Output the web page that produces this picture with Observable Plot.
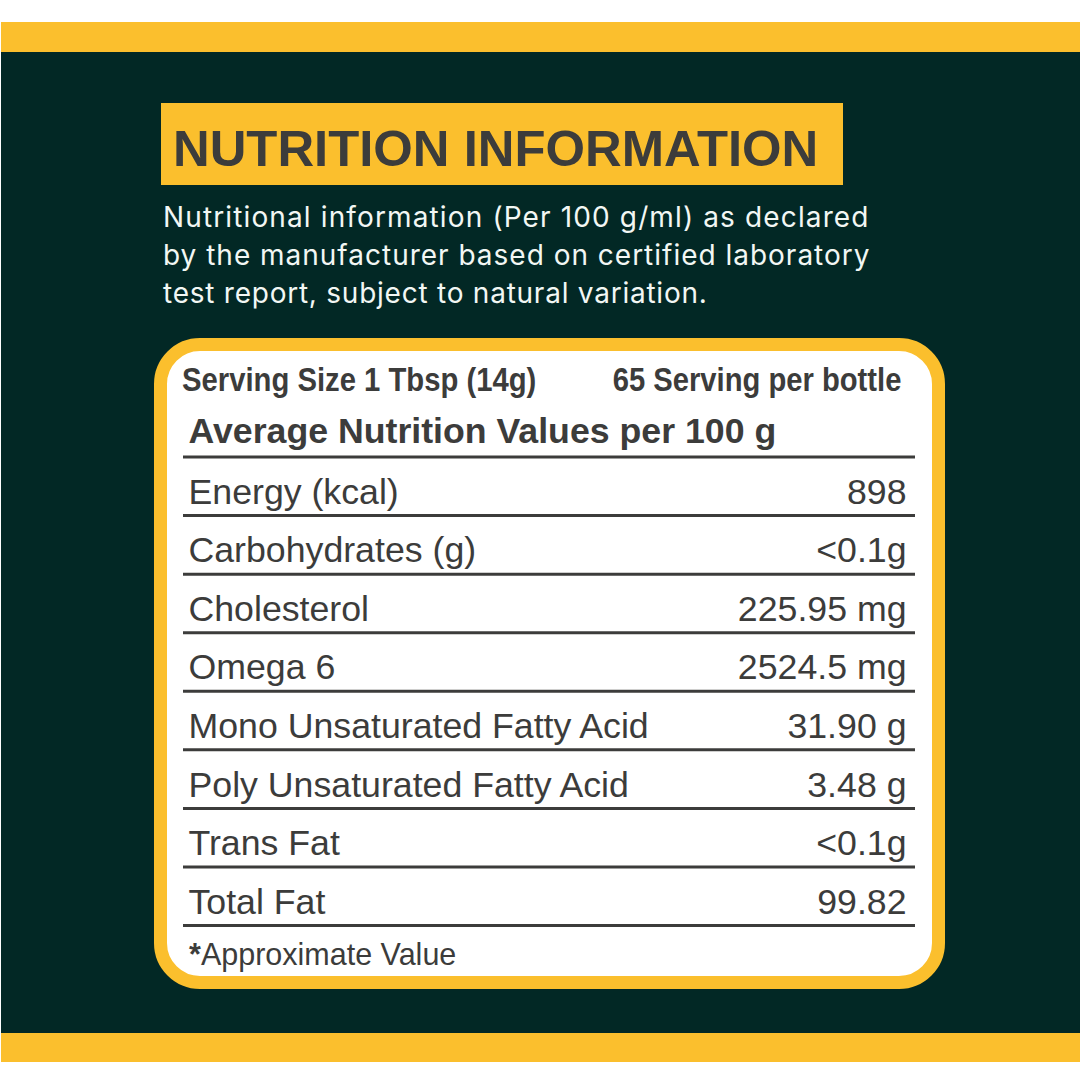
<!DOCTYPE html>
<html>
<head>
<meta charset="utf-8">
<script src="https://cdn.jsdelivr.net/npm/d3@7"></script>
<script src="https://cdn.jsdelivr.net/npm/@observablehq/plot@0.6"></script>
<style>
  html, body { margin: 0; padding: 0; background: #fff; }
  #page { position: relative; width: 1080px; height: 1080px; overflow: hidden; font-family: "Liberation Sans", Arial, sans-serif; color: #3c3c3b; }
  .abs { position: absolute; white-space: nowrap; }
  #panel { left: 1px; right: 0; top: 52px; height: 981px; background: #022825; }
  .bar { left: 1px; right: 0; background: #fbbf2d; }
  #titlebox { left: 160.5px; top: 102.5px; width: 682.5px; height: 82.5px; background: #fbbf2d; }
  #title { left: 173px; top: 119px; font-size: 50.8px; line-height: 60px; font-weight: 700; }
  .sub { left: 163px; font-family: "Inter", sans-serif; font-size: 28px; line-height: 38px; color: #f2f7f4; }
  #card { left: 154px; top: 338px; width: 765px; height: 625px; border: 13.5px solid #fbbf2d; border-radius: 46px; background: #fff; box-sizing: content-box; }
  .serving { top: 360px; font-weight: 700; font-size: 33.5px; line-height: 40px; }
  #servingL { left: 182px; transform: scaleX(0.873); transform-origin: left center; }
  #servingR { right: 179px; transform: scaleX(0.871); transform-origin: right center; }
  #note { left: 189px; top: 936px; font-size: 30.5px; line-height: 36px; }
  #chart { position: absolute; left: 183px; top: 397.5px; }
  #chart svg { overflow: visible; background: transparent; }
</style>
</head>
<body>
<div id="page">
  <div class="abs bar" style="top:22px;height:30px"></div>
  <div class="abs" id="panel"></div>
  <div class="abs bar" style="top:1033px;height:29px"></div>
  <div class="abs" id="titlebox"></div>
  <div class="abs" id="title"></div>
  <div id="sublines"></div>
  <div class="abs" id="card"></div>
  <div class="abs serving" id="servingL"></div>
  <div class="abs serving" id="servingR"></div>
  <div id="chart"></div>
  <div class="abs" id="note"></div>
</div>
<script>
const titleText = "NUTRITION INFORMATION";
const subtitleLines = [
  "Nutritional information (Per 100 g/ml) as declared",
  "by the manufacturer based on certified laboratory",
  "test report, subject to natural variation."
];
const subtitleSpacing = ["1.13px", "0.99px", "0.76px"];
const servingSize = "Serving Size 1 Tbsp (14g)";
const servingCount = "65 Serving per bottle";
const headerLabel = "Average Nutrition Values per 100 g";
const nutrients = [
  "Energy (kcal)", "Carbohydrates (g)", "Cholesterol", "Omega 6",
  "Mono Unsaturated Fatty Acid", "Poly Unsaturated Fatty Acid", "Trans Fat", "Total Fat"
];
const amounts = ["898", "<0.1g", "225.95 mg", "2524.5 mg", "31.90 g", "3.48 g", "<0.1g", "99.82"];
const noteStar = "*";
const noteText = "Approximate Value";

document.getElementById("title").textContent = titleText;
document.getElementById("servingL").textContent = servingSize;
document.getElementById("servingR").textContent = servingCount;
document.getElementById("note").innerHTML = "<b>" + noteStar + "</b>" + noteText;
const subHost = document.getElementById("sublines");
subtitleLines.forEach((t, i) => {
  const d = document.createElement("div");
  d.className = "abs sub";
  d.style.top = (198 + i * 38) + "px";
  d.style.letterSpacing = subtitleSpacing[i];
  d.textContent = t;
  subHost.appendChild(d);
});

const rows = [headerLabel, ...nutrients];
const table = nutrients.map((n, i) => ({name: n, amount: amounts[i]}));
const step = 527 / rows.length;

const chart = Plot.plot({
  width: 732,
  height: 530,
  marginTop: 0,
  marginRight: 0,
  marginLeft: 0,
  marginBottom: 3,
  x: {axis: null},
  y: {type: "band", domain: rows, axis: null, padding: 0, round: false},
  style: {background: "transparent", fontFamily: "Liberation Sans, Arial, sans-serif"},
  marks: [
    Plot.ruleY(rows, {y: d => d, dy: step / 2, stroke: "#3c3c3b", strokeWidth: 3}),
    Plot.text([headerLabel], {y: d => d, text: d => d, frameAnchor: "left", dx: 5, dy: 4, fontSize: 35.7, fontWeight: 700, fill: "#3c3c3b"}),
    Plot.text(table, {y: "name", text: "name", frameAnchor: "left", dx: 5, dy: 6, fontSize: 35.7, fill: "#3c3c3b"}),
    Plot.text(table, {y: "name", text: "amount", frameAnchor: "right", dx: -9, dy: 6, fontSize: 35.7, fill: "#3c3c3b"})
  ]
});
document.getElementById("chart").appendChild(chart);
</script>
</body>
</html>
